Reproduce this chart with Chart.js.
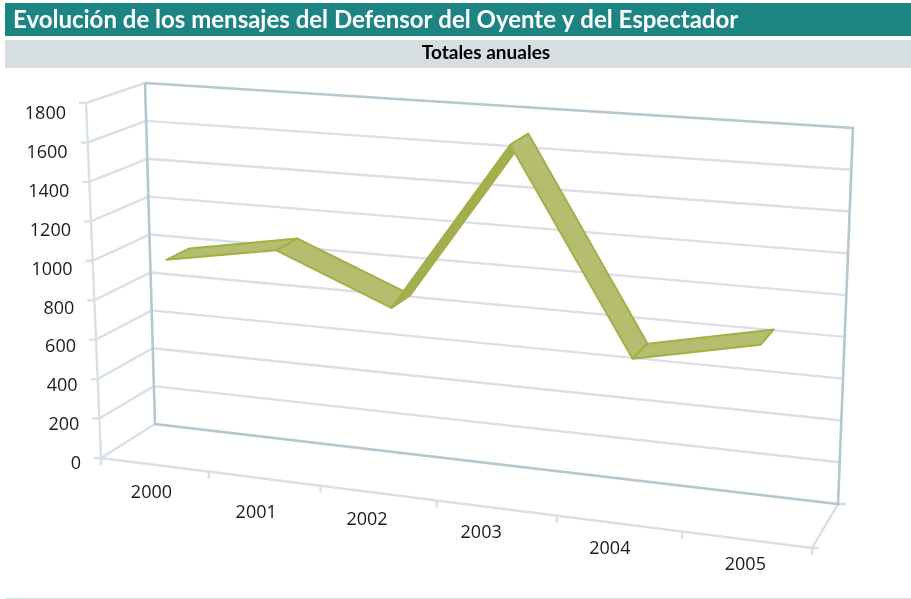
<!DOCTYPE html>
<html><head><meta charset="utf-8">
<style>html,body{margin:0;padding:0;background:#fff}canvas{display:block}</style>
<script src="https://cdn.jsdelivr.net/npm/chart.js@4/dist/chart.umd.js"></script>
</head><body><canvas id="c" width="911" height="599"></canvas>
<script>
const titleText = 'Evolución de los mensajes del Defensor del Oyente y del Espectador';
const subtitleText = 'Totales anuales';
const years = ['2000','2001','2002','2003','2004','2005'];
const mensajes = [984,1084,851,1702,721,848];
const yTickStep = 200;
const yMax = 1800;

// Layout constants of the 3D box (style, not data)
const BACK = {bl:[155,424],br:[838,504],tl:[145,83],tr:[853,128]};
const DEPTH = {bl:[-54,34],br:[-26,44],tl:[-59,20],tr:[-31,30]};
const PERSP = 1.119;
const RIB_FRONT = 0.65, RIB_BACK = 0.23;
const GRID = '#d8e1e5', EDGE = '#b5c7cf';
const xNudge = [[-3,28],[-8,34],[-11,27],[-15,25],[-9,25],[-1,25]];

const bil = (q,u,v,i)=> (q.bl[i]*(1-u)+q.br[i]*u)*(1-v) + (q.tl[i]*(1-u)+q.tr[i]*u)*v;
function P(u,v,d){
  const w = u/(u+PERSP*(1-u));
  return [bil(BACK,w,v,0)+d*bil(DEPTH,w,v,0), bil(BACK,w,v,1)+d*bil(DEPTH,w,v,1)];
}
const frac = chart => ({
  u: px => (px-chart.chartArea.left)/chart.chartArea.width,
  v: py => (chart.chartArea.bottom-py)/chart.chartArea.height
});
function seg(ctx,pts,color,w){
  ctx.beginPath(); pts.forEach((p,i)=> i?ctx.lineTo(p[0],p[1]):ctx.moveTo(p[0],p[1]));
  ctx.strokeStyle=color; ctx.lineWidth=w; ctx.stroke();
}
const box3d = {
  id:'box3d',
  beforeDraw(chart){
    const c=chart.ctx; c.save();
    c.fillStyle='#fff'; c.fillRect(0,0,911,599);
    c.fillStyle='#1c8584'; c.fillRect(5,3,906,33);
    c.fillStyle='#d7dee1'; c.fillRect(5,40,906,28);
    c.fillRect(5,598,906,1);
    c.restore();
  },
  afterLayout(chart){
    const sub=chart.boxes.find(b=>b.options&&b.options.text===subtitleText);
    if(sub){sub.left=386;sub.right=586;}
    const ys=chart.scales.y, xs=chart.scales.x;
    const wrap=(s,fn)=>{
      s._computeLabelArea=()=>undefined;
      const orig=s.constructor.prototype._computeLabelItems;
      s._computeLabelItems=function(a){const it=orig.call(this,a);it.forEach(fn);return it;};
    };
    const f=frac(chart);
    wrap(ys,(item,i)=>{
      const v=f.v(ys.getPixelForValue(ys.ticks[i].value));
      const p=P(0,v,1);
      item.options.translation=[p[0]-20,p[1]+6+5*v];
      item.options.textAlign='right'; item.options.textBaseline='middle'; item.textOffset=0;
    });
    wrap(xs,(item,i)=>{
      const p=P(f.u(xs.getPixelForValue(i)),0,1), n=xNudge[i];
      item.options.translation=[p[0]+n[0],p[1]+n[1]];
      item.options.textAlign='center'; item.options.textBaseline='middle'; item.textOffset=0;
    });
  },
  beforeDatasetsDraw(chart){
    const c=chart.ctx, ys=chart.scales.y, xs=chart.scales.x, f=frac(chart);
    c.save(); c.lineCap='butt'; c.lineJoin='miter';
    // horizontal grid round the left wall and the back wall
    ys.ticks.forEach(t=>{
      const v=f.v(ys.getPixelForValue(t.value));
      const a=P(0,v,1), b=P(0,v,0), r=P(1,v,0);
      seg(c,[[a[0]-7,a[1]],a,b],GRID,2.4);
      if(t.value>0 && t.value<yMax) seg(c,[b,r],GRID,2.4);
    });
    // floor
    seg(c,[P(0,0,1),P(1,0,1),P(1,0,0)],GRID,2.4);
    const fr=P(1,0,1), br=P(1,0,0);
    seg(c,[fr,[fr[0]+7,fr[1]]],GRID,2.4);
    seg(c,[br,[br[0]+8,br[1]]],GRID,2.4);
    // category ticks under the front floor edge
    for(let k=0;k<=years.length;k++){
      const p=P(f.u(xs.getPixelForValue(k-0.5)),0,1);
      seg(c,[p,[p[0],p[1]+7]],GRID,2.4);
    }
    // verticals
    seg(c,[P(0,0,1),P(0,1,1)],GRID,2.4);
    // back wall frame
    seg(c,[P(0,1,0),P(1,1,0),P(1,0,0),P(0,0,0),P(0,1,0)],EDGE,2.6);
    c.restore();
  },
  afterDatasetsDraw(chart){
    const c=chart.ctx, f=frac(chart), pts=chart.getDatasetMeta(0).data;
    c.save(); c.lineJoin='round';
    for(let i=0;i<pts.length-1;i++){
      const u0=f.u(pts[i].x), v0=f.v(pts[i].y), u1=f.u(pts[i+1].x), v1=f.v(pts[i+1].y);
      const q=[P(u0,v0,RIB_FRONT),P(u0,v0,RIB_BACK),P(u1,v1,RIB_BACK),P(u1,v1,RIB_FRONT)];
      c.beginPath(); q.forEach((p,j)=> j?c.lineTo(p[0],p[1]):c.moveTo(p[0],p[1])); c.closePath();
      c.fillStyle = v1>v0+0.3 ? '#a4ae4c' : '#b5bd6e';
      c.fill(); c.strokeStyle='#a5af48'; c.lineWidth=2; c.stroke();
    }
    c.restore();
  }
};
new Chart(document.getElementById('c'),{
  type:'line',
  data:{labels:years,datasets:[{label:'Mensajes',data:mensajes,borderWidth:0,pointRadius:0,borderColor:'#a5b045',backgroundColor:'#b5bd6e',fill:false}]},
  plugins:[box3d],
  options:{
    responsive:false,animation:false,
    layout:{padding:{left:13,right:60,top:6,bottom:40}},
    events:[],
    plugins:{
      legend:{display:false},tooltip:{enabled:false},
      title:{display:true,text:titleText,align:'start',color:'#fff',font:{family:'Lato',size:24,weight:'bold',lineHeight:1.2},padding:{top:0,bottom:7}},
      subtitle:{display:true,text:subtitleText,align:'center',color:'#000',font:{family:'Lato',size:19,weight:'bold',lineHeight:1.2},padding:{top:0,bottom:20}}
    },
    scales:{
      x:{type:'category',offset:true,grid:{display:false},border:{display:false},ticks:{color:'#1a1a1a',font:{family:'Open Sans',size:18},maxRotation:0,autoSkip:false}},
      y:{type:'linear',min:0,max:yMax,grid:{display:false},border:{display:false},ticks:{stepSize:yTickStep,color:'#1a1a1a',font:{family:'Open Sans',size:18},callback:v=>String(v)}}
    }
  }
});
</script></body></html>
